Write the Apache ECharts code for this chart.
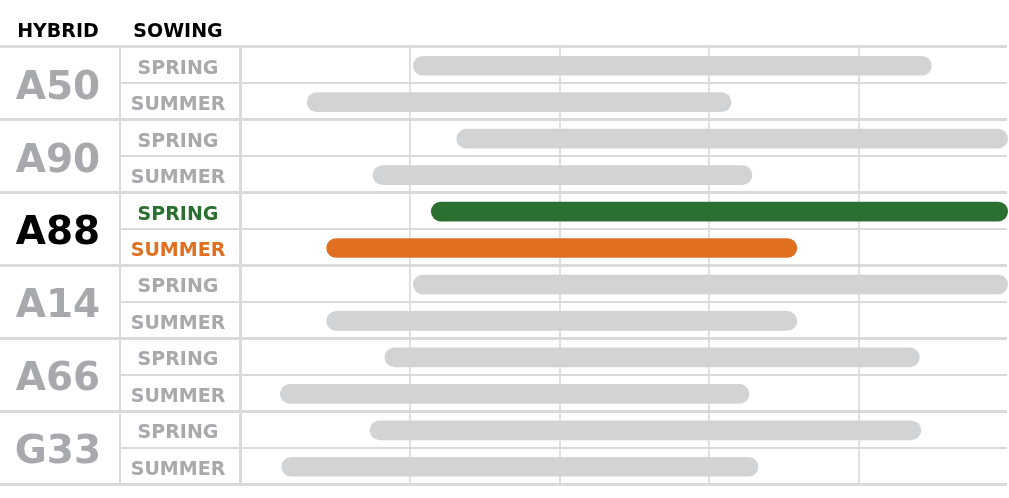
<!DOCTYPE html>
<html>
<head>
<meta charset="utf-8">
<script src="https://cdn.jsdelivr.net/npm/echarts@6/dist/echarts.min.js"></script>
<style>
  html, body { margin: 0; padding: 0; background: #fff; }
  #chart { width: 1009px; height: 498px; }
</style>
</head>
<body>
<div id="chart"></div>
<script>
// hybrids and sowing periods (rows of the table)
var hybrids = ['A50', 'A90', 'A88', 'A14', 'A66', 'G33'];
var sowings = ['SPRING', 'SUMMER'];
var highlight = 'A88';

// growing window per hybrid (axis units 0..50)
var springStart = [10.2, 13.1, 11.4, 10.2, 8.3, 7.3];
var springEnd = [44.9, 50.0, 50.0, 50.0, 44.1, 44.2];
var summerStart = [3.1, 7.5, 4.4, 4.4, 1.3, 1.4];
var summerEnd = [31.5, 32.9, 35.9, 35.9, 32.7, 33.3];

var axisMin = 0;
var axisMax = 50;
var axisStep = 10;

var FONT = 'DejaVu Sans';
var GRAY_TXT = '#a7a9ac';
var LINE = '#dadada';
var BAR_GRAY = '#d1d3d4';
var GREEN = '#2b7030';
var ORANGE = '#e0701f';

var chart = echarts.init(document.getElementById('chart'));

// one row per hybrid x sowing
var rowNames = [];
var bars = [];
hybrids.forEach(function (h, i) {
  rowNames.push(sowings[0]);
  rowNames.push(sowings[1]);
  bars.push([i * 2, springStart[i], springEnd[i], i, 0]);
  bars.push([i * 2 + 1, summerStart[i], summerEnd[i], i, 1]);
});
var rowIdx = rowNames.map(function (n, i) { return String(i); });

function sowingColor(index) {
  var h = hybrids[Math.floor(index / 2)];
  if (h != highlight) return GRAY_TXT;
  return index % 2 == 0 ? GREEN : ORANGE;
}

function renderBar(params, api) {
  var row = api.value(0);
  var s = api.coord([api.value(1), row]);
  var e = api.coord([api.value(2), row]);
  var h = api.size([0, 1])[1] * 0.54;
  var fill = BAR_GRAY;
  if (hybrids[api.value(3)] == highlight) {
    fill = api.value(4) == 0 ? GREEN : ORANGE;
  }
  return {
    type: 'rect',
    shape: { x: s[0], y: s[1] - h / 2 + 1, width: e[0] - s[0], height: h, r: h / 2 },
    style: { fill: fill }
  };
}

var gridTop = 46.5, gridBottom = 14;

var option = {
  animation: false,
  grid: [
    { left: 0, right: 2, top: gridTop, bottom: gridBottom },
    { left: 120, right: 2, top: gridTop, bottom: gridBottom },
    { left: 240, right: 2, top: gridTop, bottom: gridBottom },
    { left: 260.5, right: 1, top: gridTop, bottom: gridBottom }
  ],
  xAxis: [
    { gridIndex: 0, type: 'value', show: false },
    { gridIndex: 1, type: 'value', show: false },
    { gridIndex: 2, type: 'value', show: false },
    {
      gridIndex: 3, type: 'value', min: axisMin, max: axisMax, interval: axisStep,
      axisLine: { show: false }, axisTick: { show: false }, axisLabel: { show: false },
      splitLine: { show: true, showMinLine: false, showMaxLine: false, lineStyle: { color: '#d6d6d6', width: 1.5 } }
    }
  ],
  yAxis: [
    {
      gridIndex: 0, type: 'category', data: hybrids, inverse: true,
      axisLine: { show: false }, axisTick: { show: false },
      splitLine: { show: true, lineStyle: { color: LINE, width: 3 } },
      axisLabel: {
        inside: true, margin: 58, align: 'center', verticalAlign: 'top', lineHeight: 11,
        fontFamily: FONT, fontWeight: 'bold', fontSize: 39,
        color: function (v) { return v == highlight ? '#000' : GRAY_TXT; }
      }
    },
    {
      gridIndex: 1, type: 'category', data: rowIdx, inverse: true,
      axisLine: { show: true, lineStyle: { color: LINE, width: 2 } },
      axisTick: { show: false },
      splitLine: { show: true, lineStyle: { color: LINE, width: 2 } },
      axisLabel: {
        inside: true, margin: 58, align: 'center', verticalAlign: 'top', lineHeight: 8,
        fontFamily: FONT, fontWeight: 'bold', fontSize: 19,
        formatter: function (v) { return rowNames[+v]; },
        color: function (v) { return sowingColor(+v); }
      }
    },
    {
      gridIndex: 2, type: 'category', data: rowIdx, inverse: true,
      axisLine: { show: true, lineStyle: { color: LINE, width: 3 } },
      axisTick: { show: false }, axisLabel: { show: false }, splitLine: { show: false }
    },
    {
      gridIndex: 3, type: 'category', data: rowIdx, inverse: true, show: false
    }
  ],
  graphic: [
    { type: 'text', x: 58, y: 32, style: { text: 'HYBRID', fill: '#000', font: 'bold 19px "DejaVu Sans"', align: 'center', verticalAlign: 'middle', textAlign: 'center', textVerticalAlign: 'middle' } },
    { type: 'text', x: 178, y: 32, style: { text: 'SOWING', fill: '#000', font: 'bold 19px "DejaVu Sans"', align: 'center', verticalAlign: 'middle', textAlign: 'center', textVerticalAlign: 'middle' } }
  ],
  series: [
    {
      type: 'custom',
      xAxisIndex: 3,
      yAxisIndex: 3,
      renderItem: renderBar,
      clip: false,
      encode: { x: [1, 2], y: 0 },
      data: bars,
      z: 5
    }
  ]
};

chart.setOption(option);
</script>
</body>
</html>
